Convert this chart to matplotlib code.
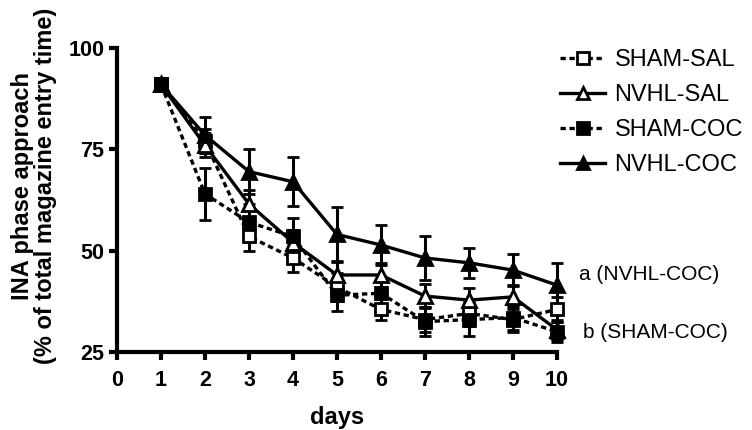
import matplotlib
matplotlib.use("Agg")
import matplotlib.pyplot as plt
from matplotlib.lines import Line2D

plt.rcParams['font.family'] = ['Liberation Sans', 'DejaVu Sans']

days = [1, 2, 3, 4, 5, 6, 7, 8, 9, 10]
sham_sal = [91, 77, 53.5, 48.2, 41, 35.5, 33, 34.5, 33, 35.5]
sham_sal_err = [0, 3, 3.5, 3.5, 3.5, 2.5, 3, 3, 3, 3]
nvhl_sal = [91, 76, 61.5, 52, 44, 44, 38.8, 37.8, 38.6, 30.5]
nvhl_sal_err = [0, 3, 3.5, 3, 3.5, 3, 3, 3, 3, 2.5]
sham_coc = [91, 64, 57, 53.5, 39, 39.5, 32.5, 33, 33.5, 30]
sham_coc_err = [0, 6.5, 4.5, 4.5, 4, 3, 3.5, 4, 3, 2.5]
nvhl_coc = [91, 78.5, 69.5, 67, 54, 51.4, 48.2, 47, 45.2, 41.5]
nvhl_coc_err = [0, 4.5, 5.5, 6, 6.7, 5, 5.5, 3.7, 4, 5.5]

labels = ["SHAM-SAL", "NVHL-SAL", "SHAM-COC", "NVHL-COC"]
xticks = [0, 1, 2, 3, 4, 5, 6, 7, 8, 9, 10]
yticks = [25, 50, 75, 100]

fig = plt.figure(figsize=(7.52, 4.30), dpi=100)
ax = fig.add_axes([0.1556, 0.1814, 0.585, 0.707])

lw = 2.4
common = dict(color='black', linewidth=lw, elinewidth=2.2, capsize=4.5, capthick=2.2)
dash = (0, (1.6, 1.1))
series = [
    (sham_sal, sham_sal_err, 's', 'white', dash, 9),
    (nvhl_sal, nvhl_sal_err, '^', 'white', '-', 10),
    (sham_coc, sham_coc_err, 's', 'black', dash, 9),
    (nvhl_coc, nvhl_coc_err, '^', 'black', '-', 10),
]
for (vals, err, m, fc, ls, ms) in series:
    ax.errorbar(days, vals, yerr=err, marker=m, markersize=ms, markerfacecolor=fc,
                markeredgecolor='black', markeredgewidth=2, linestyle=ls,
                clip_on=False, **common)

ax.set_xlim(0, 10)
ax.set_ylim(25, 100)
ax.set_xticks(xticks)
ax.set_yticks(yticks)
for s in ['top', 'right']:
    ax.spines[s].set_visible(False)
for s in ['left', 'bottom']:
    ax.spines[s].set_linewidth(3)
ax.tick_params(direction='out', length=6, width=3, labelsize=15.5)
ax.tick_params(axis='x', pad=7)
ax.tick_params(axis='y', pad=3)
for t in ax.get_xticklabels() + ax.get_yticklabels():
    t.set_fontweight('bold')
ax.set_xlabel("days", fontsize=17, fontweight='bold', labelpad=11)
ax.set_ylabel("INA phase approach\n(% of total magazine entry time)", fontsize=17,
              fontweight='bold', labelpad=6, linespacing=1.0)
ax.yaxis.set_label_coords(-0.137, 0.545)

handles = []
for (vals, err, m, fc, ls, ms) in series:
    handles.append(Line2D([0], [0], color='black', linewidth=2.4, linestyle=ls, marker=m,
                          markersize=ms - 1, markerfacecolor=fc, markeredgecolor='black',
                          markeredgewidth=2))
fig.legend(handles, labels, loc='upper left', bbox_to_anchor=(0.745, 0.885), frameon=False,
           fontsize=17, handlelength=1.9, handletextpad=0.4, labelspacing=0.55, borderaxespad=0,
           borderpad=0)

ax.text(10.5, 44, "a (NVHL-COC)", fontsize=15, va='center', ha='left')
ax.text(10.6, 29.8, "b (SHAM-COC)", fontsize=15, va='center', ha='left')

fig.savefig("out.png", dpi=100)
